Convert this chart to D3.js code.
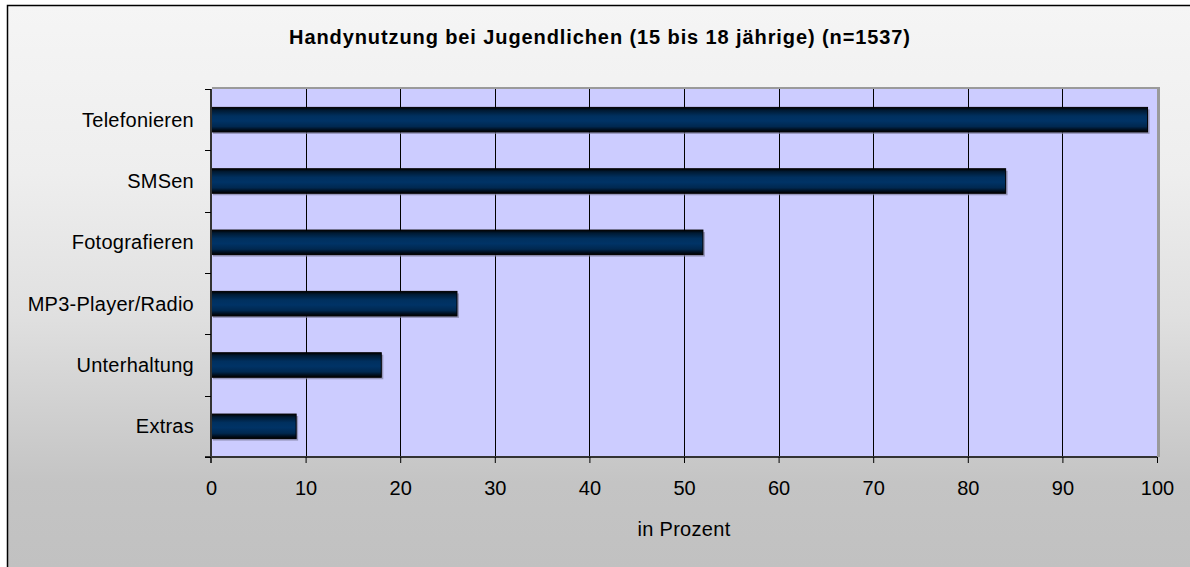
<!DOCTYPE html>
<html>
<head>
<meta charset="utf-8">
<script src="https://cdn.jsdelivr.net/npm/d3@7"></script>
<style>
  html, body { margin: 0; padding: 0; background: #fff; overflow: hidden; }
  svg { display: block; font-family: "Liberation Sans", Arial, sans-serif; }
</style>
</head>
<body>
<svg id="chart" width="1190" height="567"></svg>
<script>
const categories = ["Telefonieren", "SMSen", "Fotografieren", "MP3-Player/Radio", "Unterhaltung", "Extras"];
const values = [99, 84, 52, 26, 18, 9];
const xTicks = [0, 10, 20, 30, 40, 50, 60, 70, 80, 90, 100];
const title = "Handynutzung bei Jugendlichen (15 bis 18 jährige) (n=1537)";
const xTitle = "in Prozent";

const svg = d3.select("#chart");
const W = 1190, H = 567;
const plot = { left: 211, top: 89, right: 1157, bottom: 457 };

const defs = svg.append("defs");
const bg = defs.append("linearGradient").attr("id", "bg")
  .attr("gradientUnits", "userSpaceOnUse").attr("x1", 0).attr("y1", 5).attr("x2", 0).attr("y2", 567);
[[0, "#f5f5f5"], [0.3, "#eeeeee"], [0.55, "#e0e0e0"], [0.85, "#c4c4c4"], [1, "#c1c1c1"]]
  .forEach(([o, c]) => bg.append("stop").attr("offset", o).attr("stop-color", c));

const barG = defs.append("linearGradient").attr("id", "barG")
  .attr("x1", 0).attr("y1", 0).attr("x2", 0).attr("y2", 1);
[[0, "#000000"], [0.12, "#001a33"], [0.35, "#00305f"], [0.55, "#003366"], [0.78, "#002850"], [0.92, "#000c1a"], [1, "#000000"]]
  .forEach(([o, c]) => barG.append("stop").attr("offset", o).attr("stop-color", c));

// Chart area background
svg.append("rect").attr("x", 7.5).attr("y", 5.5).attr("width", W + 20).attr("height", H + 20)
  .attr("fill", "url(#bg)").attr("stroke", "#000").attr("stroke-width", 1.5);

// Scales
const x = d3.scaleLinear().domain([0, 100]).range([plot.left, plot.right]);
const y = d3.scaleBand().domain(categories).range([plot.top, plot.bottom]).paddingInner(0.6).paddingOuter(0.3);

// Plot area shadow + fill
svg.append("rect").attr("x", plot.left + 1).attr("y", plot.top - 2)
  .attr("width", plot.right - plot.left + 2).attr("height", plot.bottom - plot.top + 2)
  .attr("fill", "#9a9a9a");
svg.append("rect").attr("x", plot.left).attr("y", plot.top)
  .attr("width", plot.right - plot.left).attr("height", plot.bottom - plot.top)
  .attr("fill", "#ccccff");

// Gridlines
svg.append("g").selectAll("line").data(xTicks.filter(t => t > 0 && t < 100)).join("line")
  .attr("x1", d => Math.round(x(d)) + 0.5).attr("x2", d => Math.round(x(d)) + 0.5)
  .attr("y1", plot.top).attr("y2", plot.bottom)
  .attr("stroke", "#000").attr("stroke-width", 1);

// Bars
const bars = svg.append("g");
bars.selectAll("rect.shadow").data(categories).join("rect").attr("class", "shadow")
  .attr("x", x(0) + 2).attr("y", d => y(d) + 2)
  .attr("width", (d, i) => x(values[i]) - x(0)).attr("height", y.bandwidth())
  .attr("fill", "#8080a0").attr("opacity", 0.7);
bars.selectAll("rect.bar").data(categories).join("rect").attr("class", "bar")
  .attr("x", x(0)).attr("y", d => y(d))
  .attr("width", (d, i) => x(values[i]) - x(0)).attr("height", y.bandwidth())
  .attr("fill", "url(#barG)").attr("stroke", "#000").attr("stroke-width", 1);

// X axis
const xAxis = d3.axisBottom(x).tickValues(xTicks).tickSize(6).tickFormat(d3.format("d"));
const gx = svg.append("g").attr("transform", `translate(0,${plot.bottom})`).call(xAxis);
gx.select(".domain").attr("stroke", "#333").attr("stroke-width", 2).attr("d", `M${plot.left - 6},0H${plot.right}`);
gx.selectAll(".tick line").attr("stroke", "#000").attr("stroke-width", 1);
gx.selectAll(".tick text").attr("font-size", 20).attr("fill", "#000").attr("dy", "0").attr("y", 38)
  .attr("font-family", "Liberation Sans, Arial, sans-serif");

// Y axis
const gy = svg.append("g").attr("transform", `translate(${plot.left},0)`);
gy.append("line").attr("x1", 0).attr("x2", 0).attr("y1", plot.top).attr("y2", plot.bottom + 6)
  .attr("stroke", "#333").attr("stroke-width", 2);
const boundaries = d3.range(categories.length + 1).map(i => plot.top + i * (plot.bottom - plot.top) / categories.length);
gy.selectAll("line.tk").data(boundaries).join("line").attr("class", "tk")
  .attr("x1", -6).attr("x2", 0).attr("y1", d => Math.round(d) + 0.5).attr("y2", d => Math.round(d) + 0.5)
  .attr("stroke", "#000");
gy.selectAll("text").data(categories).join("text")
  .attr("x", -17).attr("y", d => y(d) + y.bandwidth() / 2)
  .attr("dy", "0.35em").attr("text-anchor", "end")
  .attr("font-size", 20).attr("letter-spacing", 0.25).attr("fill", "#000").text(d => d);

// Title
svg.append("text").attr("x", 600).attr("y", 44).attr("text-anchor", "middle")
  .attr("font-size", 20).attr("letter-spacing", 0.9).attr("font-weight", "bold").attr("fill", "#000").text(title);

// X title
svg.append("text").attr("x", (plot.left + plot.right) / 2).attr("y", 536).attr("text-anchor", "middle")
  .attr("font-size", 20).attr("letter-spacing", 0.3).attr("fill", "#000").text(xTitle);
</script>
</body>
</html>
